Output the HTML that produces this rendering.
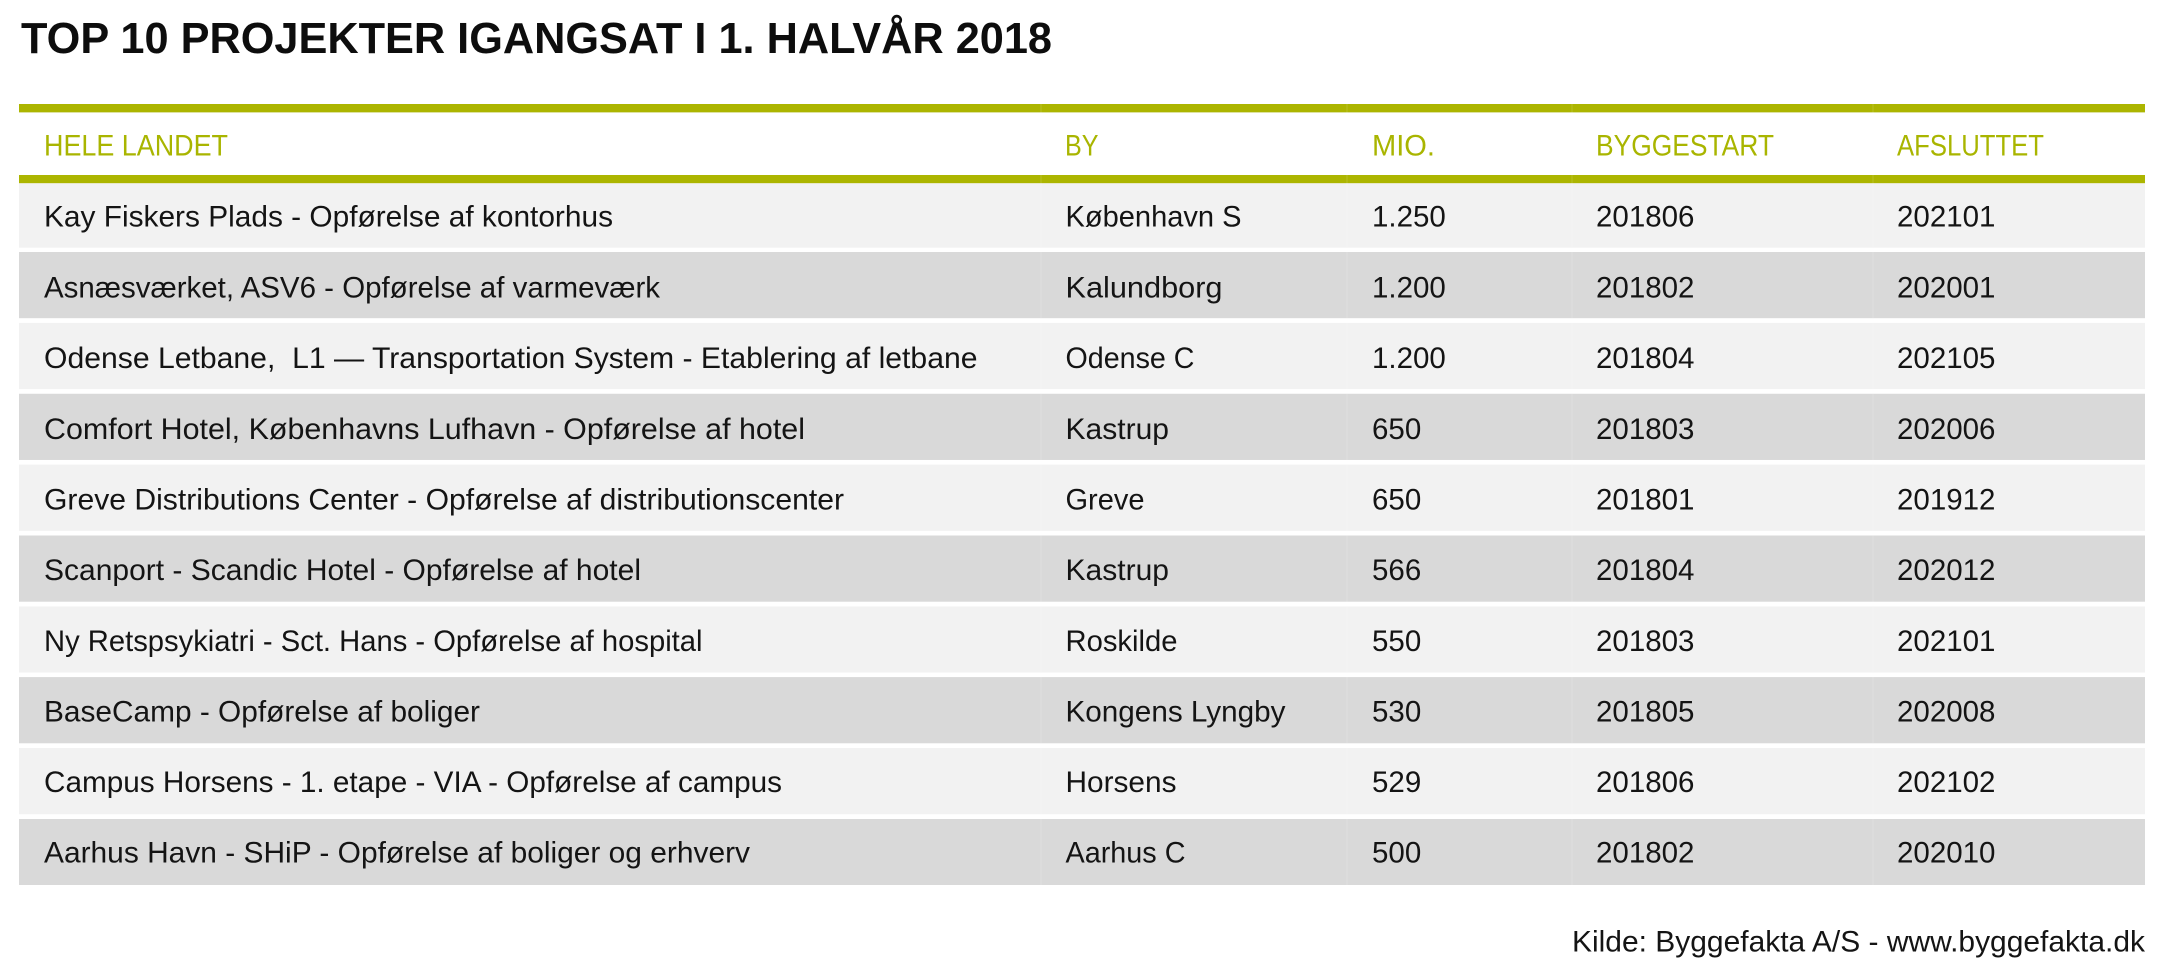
<!DOCTYPE html>
<html>
<head>
<meta charset="utf-8">
<style>
  html,body{margin:0;padding:0;background:#fff;}
  body{width:2165px;height:979px;overflow:hidden;}
  svg{display:block;}
  .t{font-family:"Liberation Sans",Arial,sans-serif;}
  .b{font-size:29.5px;fill:#141414;}
  .h{font-size:30px;fill:#a9b500;}
</style>
</head>
<body>
<svg width="2165" height="979" viewBox="0 0 2165 979" xmlns="http://www.w3.org/2000/svg">
  <rect x="0" y="0" width="2165" height="979" fill="#ffffff"/>

  <!-- Title -->
  <text class="t" x="21" y="53" font-size="44" font-weight="bold" fill="#0d0d0d" textLength="1031" lengthAdjust="spacingAndGlyphs">TOP 10 PROJEKTER IGANGSAT I 1. HALVÅR 2018</text>

  <!-- Header bars -->
  <rect x="19" y="104" width="2126" height="8" fill="#acb500"/>
  <rect x="19" y="112" width="2126" height="1" fill="#dde2a0"/>
  <rect x="19" y="175" width="2126" height="8.3" fill="#acb500"/>

  <!-- Header labels -->
  <text class="t h" x="44" y="155.5" textLength="184" lengthAdjust="spacingAndGlyphs">HELE LANDET</text>
  <text class="t h" x="1065" y="155.5" textLength="33.5" lengthAdjust="spacingAndGlyphs">BY</text>
  <text class="t h" x="1372" y="155.5" textLength="63" lengthAdjust="spacingAndGlyphs">MIO.</text>
  <text class="t h" x="1596" y="155.5" textLength="178" lengthAdjust="spacingAndGlyphs">BYGGESTART</text>
  <text class="t h" x="1897" y="155.5" textLength="147" lengthAdjust="spacingAndGlyphs">AFSLUTTET</text>

  <!-- Row backgrounds -->
  <rect x="19" y="183.3" width="2126" height="64.4" fill="#f2f2f2"/>
  <rect x="19" y="252" width="2126" height="66.2" fill="#d9d9d9"/>
  <rect x="19" y="322.9" width="2126" height="66.2" fill="#f2f2f2"/>
  <rect x="19" y="393.75" width="2126" height="66.2" fill="#d9d9d9"/>
  <rect x="19" y="464.6" width="2126" height="66.2" fill="#f2f2f2"/>
  <rect x="19" y="535.5" width="2126" height="66.2" fill="#d9d9d9"/>
  <rect x="19" y="606.4" width="2126" height="66.2" fill="#f2f2f2"/>
  <rect x="19" y="677.1" width="2126" height="66.2" fill="#d9d9d9"/>
  <rect x="19" y="748" width="2126" height="66.2" fill="#f2f2f2"/>
  <rect x="19" y="819" width="2126" height="66" fill="#d9d9d9"/>

  <!-- faint column separators -->
  <g stroke="#ffffff" stroke-opacity="0.15" stroke-width="1">
    <line x1="1041" y1="104" x2="1041" y2="885"/>
    <line x1="1347" y1="104" x2="1347" y2="885"/>
    <line x1="1572" y1="104" x2="1572" y2="885"/>
    <line x1="1873" y1="104" x2="1873" y2="885"/>
  </g>

  <!-- Row 1 -->
  <g class="t b">
    <text x="44" y="226.5" textLength="569" lengthAdjust="spacingAndGlyphs">Kay Fiskers Plads - Opførelse af kontorhus</text>
    <text x="1065.5" y="226.5" textLength="176" lengthAdjust="spacingAndGlyphs">København S</text>
    <text x="1372" y="226.5">1.250</text>
    <text x="1596" y="226.5">201806</text>
    <text x="1897" y="226.5">202101</text>
  </g>
  <!-- Row 2 -->
  <g class="t b">
    <text x="44" y="297.5" textLength="616" lengthAdjust="spacingAndGlyphs">Asnæsværket, ASV6 - Opførelse af varmeværk</text>
    <text x="1065.5" y="297.5" textLength="157" lengthAdjust="spacingAndGlyphs">Kalundborg</text>
    <text x="1372" y="297.5">1.200</text>
    <text x="1596" y="297.5">201802</text>
    <text x="1897" y="297.5">202001</text>
  </g>
  <!-- Row 3 -->
  <g class="t b">
    <text x="44" y="368.15" textLength="933.5" lengthAdjust="spacingAndGlyphs">Odense Letbane, &#160;L1 — Transportation System - Etablering af letbane</text>
    <text x="1065.5" y="368.15" textLength="129" lengthAdjust="spacingAndGlyphs">Odense C</text>
    <text x="1372" y="368.15">1.200</text>
    <text x="1596" y="368.15">201804</text>
    <text x="1897" y="368.15">202105</text>
  </g>
  <!-- Row 4 -->
  <g class="t b">
    <text x="44" y="438.8" textLength="761" lengthAdjust="spacingAndGlyphs">Comfort Hotel, Københavns Lufhavn - Opførelse af hotel</text>
    <text x="1065.5" y="438.8" textLength="103.5" lengthAdjust="spacingAndGlyphs">Kastrup</text>
    <text x="1372" y="438.8">650</text>
    <text x="1596" y="438.8">201803</text>
    <text x="1897" y="438.8">202006</text>
  </g>
  <!-- Row 5 -->
  <g class="t b">
    <text x="44" y="509.45" textLength="800" lengthAdjust="spacingAndGlyphs">Greve Distributions Center - Opførelse af distributionscenter</text>
    <text x="1065.5" y="509.45" textLength="79" lengthAdjust="spacingAndGlyphs">Greve</text>
    <text x="1372" y="509.45">650</text>
    <text x="1596" y="509.45">201801</text>
    <text x="1897" y="509.45">201912</text>
  </g>
  <!-- Row 6 -->
  <g class="t b">
    <text x="44" y="580.1" textLength="597" lengthAdjust="spacingAndGlyphs">Scanport - Scandic Hotel - Opførelse af hotel</text>
    <text x="1065.5" y="580.1" textLength="103.5" lengthAdjust="spacingAndGlyphs">Kastrup</text>
    <text x="1372" y="580.1">566</text>
    <text x="1596" y="580.1">201804</text>
    <text x="1897" y="580.1">202012</text>
  </g>
  <!-- Row 7 -->
  <g class="t b">
    <text x="44" y="650.75" textLength="658.5" lengthAdjust="spacingAndGlyphs">Ny Retspsykiatri - Sct. Hans - Opførelse af hospital</text>
    <text x="1065.5" y="650.75" textLength="112" lengthAdjust="spacingAndGlyphs">Roskilde</text>
    <text x="1372" y="650.75">550</text>
    <text x="1596" y="650.75">201803</text>
    <text x="1897" y="650.75">202101</text>
  </g>
  <!-- Row 8 -->
  <g class="t b">
    <text x="44" y="721.4" textLength="436" lengthAdjust="spacingAndGlyphs">BaseCamp - Opførelse af boliger</text>
    <text x="1065.5" y="721.4" textLength="220" lengthAdjust="spacingAndGlyphs">Kongens Lyngby</text>
    <text x="1372" y="721.4">530</text>
    <text x="1596" y="721.4">201805</text>
    <text x="1897" y="721.4">202008</text>
  </g>
  <!-- Row 9 -->
  <g class="t b">
    <text x="44" y="792.05" textLength="738" lengthAdjust="spacingAndGlyphs">Campus Horsens - 1. etape - VIA - Opførelse af campus</text>
    <text x="1065.5" y="792.05" textLength="111" lengthAdjust="spacingAndGlyphs">Horsens</text>
    <text x="1372" y="792.05">529</text>
    <text x="1596" y="792.05">201806</text>
    <text x="1897" y="792.05">202102</text>
  </g>
  <!-- Row 10 -->
  <g class="t b">
    <text x="44" y="862.7" textLength="706" lengthAdjust="spacingAndGlyphs">Aarhus Havn - SHiP - Opførelse af boliger og erhverv</text>
    <text x="1065.5" y="862.7" textLength="120" lengthAdjust="spacingAndGlyphs">Aarhus C</text>
    <text x="1372" y="862.7">500</text>
    <text x="1596" y="862.7">201802</text>
    <text x="1897" y="862.7">202010</text>
  </g>

  <!-- Footer -->
  <text class="t b" x="1572" y="951.7" textLength="573" lengthAdjust="spacingAndGlyphs">Kilde: Byggefakta A/S - www.byggefakta.dk</text>
</svg>
</body>
</html>
